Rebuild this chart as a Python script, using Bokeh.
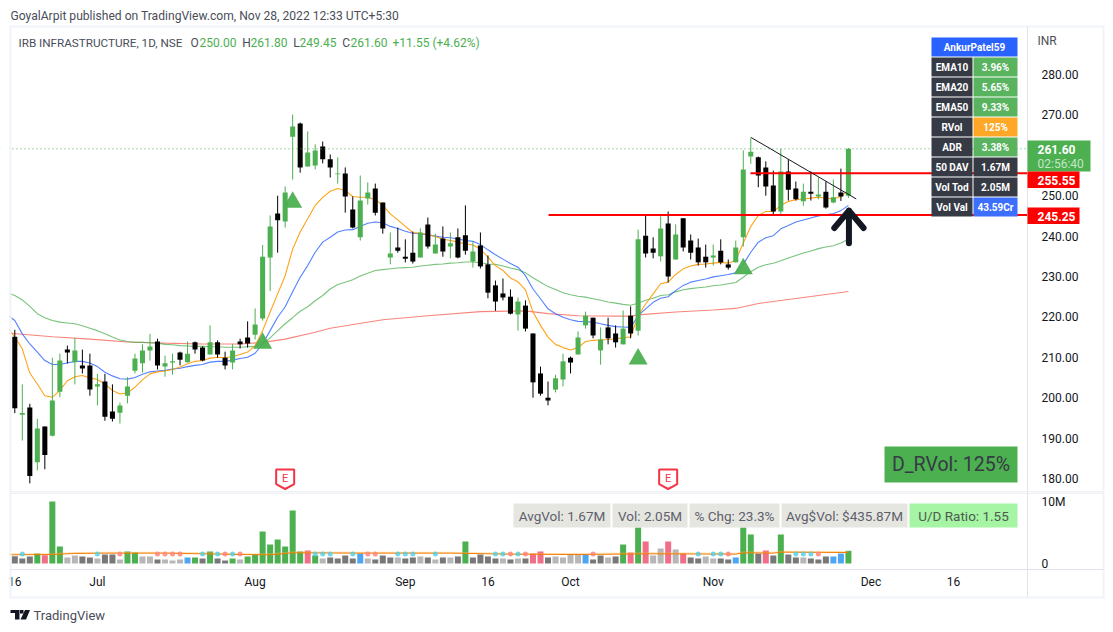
from bokeh.plotting import figure
from bokeh.layouts import column
from bokeh.embed import file_html
from bokeh.resources import INLINE
from bokeh.core.properties import value
from bokeh.models import Range1d, FixedTicker, BoxAnnotation, Label, PolyAnnotation

FONT = "Roboto"

# ---------- price series (one entry per daily bar) ----------
opens = [215.1,195.8,197.6,184.0,192.9,190.6,201.5,211.9,208.8,208.0,208.0,202.8,204.0,196.6,196.3,200.5,206.7,208.5,211.7,213.9,
 207.7,208.7,211.2,208.8,213.7,212.4,210.7,213.7,209.9,208.7,213.9,214.9,215.6,219.6,234.7,245.6,243.6,264.6,267.9,257.2,
 257.5,262.2,259.0,255.3,255.5,246.6,239.7,249.3,251.8,248.3,234.7,237.2,234.9,235.9,234.7,242.9,235.7,239.4,237.4,239.7,
 240.2,233.7,237.7,233.0,227.8,225.8,225.0,220.6,222.8,215.9,206.0,200.0,202.0,204.5,209.9,210.7,217.9,219.8,211.7,217.4,
 215.9,213.2,220.3,216.6,240.1,236.9,235.0,243.1,234.2,244.4,238.9,237.2,234.9,234.7,236.4,233.0,233.5,239.7,259.7,259.5,
 257.0,252.5,246.1,256.0,251.8,248.6,251.0,249.8,251.0,248.3,250.8,250.0]
highs = [216.8,203.3,198.5,194.8,192.9,209.9,210.9,212.9,214.8,211.9,210.9,205.9,205.9,203.3,198.8,205.1,210.9,213.2,215.8,214.6,
 210.4,210.9,211.4,213.9,213.9,212.7,217.9,214.2,211.4,213.3,214.6,218.9,222.1,237.8,245.1,250.0,252.3,270.1,268.1,265.9,
 262.7,263.4,260.2,259.5,257.0,249.8,255.0,253.3,253.0,248.3,240.9,242.1,239.2,241.1,241.9,244.6,240.6,242.4,240.9,241.9,
 247.6,238.7,240.9,235.2,229.0,229.5,226.8,224.8,224.1,215.9,207.7,204.0,205.7,210.9,210.2,216.4,221.3,219.8,217.4,219.8,
 217.9,221.6,222.6,241.6,245.1,239.7,244.9,246.1,242.9,244.4,240.4,239.4,237.9,237.9,239.2,234.2,238.9,261.2,264.4,259.7,
 258.5,256.2,261.6,259.0,253.5,253.0,256.0,254.5,253.5,254.0,256.7,261.8]
lows = [196.2,189.4,178.8,182.0,182.3,190.4,200.1,208.5,203.3,206.0,200.5,198.1,194.3,194.1,193.6,198.6,206.0,206.2,209.2,207.0,
 205.2,205.7,208.0,208.7,210.9,209.0,210.7,209.9,207.0,207.0,212.2,212.4,214.4,219.1,226.4,235.9,242.1,254.0,255.7,257.2,
 256.5,258.0,254.5,253.0,245.8,241.9,238.9,247.8,245.1,240.6,233.0,235.9,233.5,233.2,234.7,236.9,235.7,234.9,234.5,234.5,
 235.4,232.2,232.0,224.6,221.5,224.1,220.6,216.6,216.4,200.0,200.5,198.1,201.3,202.8,206.0,210.7,217.1,214.7,208.2,213.2,
 212.4,213.2,214.7,215.4,234.7,234.5,233.7,228.5,234.2,236.2,234.2,232.7,232.2,232.7,233.0,231.7,233.5,237.4,257.9,252.1,
 250.0,245.1,245.5,248.8,248.8,247.5,248.8,249.1,246.8,248.1,248.7,249.45]
closes = [197.4,196.2,180.6,192.4,185.8,199.3,209.2,211.2,211.7,207.2,202.0,203.3,195.3,194.8,198.1,202.8,209.7,211.7,212.7,208.0,
 208.5,209.0,209.4,210.9,211.9,209.2,213.7,210.7,208.0,211.7,213.2,213.4,218.1,234.9,242.4,243.9,250.8,267.1,257.0,260.7,
 261.2,259.0,257.0,255.5,249.8,242.1,248.8,250.8,245.8,241.9,235.7,236.4,234.4,233.7,240.9,237.4,237.9,236.2,238.2,234.7,
 236.4,236.2,232.5,226.0,223.8,224.8,220.8,223.8,217.1,203.8,201.0,199.3,204.8,209.0,208.7,214.9,220.3,215.4,214.4,214.7,
 213.7,217.1,215.9,239.2,235.7,235.9,241.9,230.0,240.4,237.2,235.9,233.5,233.5,235.2,233.5,232.2,237.2,256.5,260.9,255.0,
 252.3,246.1,256.0,251.5,249.1,251.0,250.5,250.3,247.1,249.6,249.8,261.6]

# ---------- moving averages, from bar -1 (off the left edge) to the last bar ----------
ema10 = [217.5,215.0,212.1,206.1,203.4,200.5,200.1,201.8,204.2,205.2,205.5,204.9,204.5,203.4,201.8,200.9,201.2,202.6,204.4,205.9,206.4,
 206.6,207.0,207.6,208.4,209.0,209.2,209.8,210.0,209.9,210.2,210.7,211.3,212.9,216.6,221.2,225.7,230.2,236.8,241.0,244.3,
 247.6,249.6,251.1,251.8,251.3,249.8,249.6,249.6,249.0,247.6,245.5,244.0,242.4,240.9,240.7,240.4,239.9,239.2,238.9,238.5,
 238.1,237.8,236.8,234.8,232.7,231.5,229.6,228.7,226.7,221.2,217.9,215.0,213.2,212.4,211.8,212.4,213.9,214.2,214.3,214.4,
 214.6,214.8,215.1,220.3,223.2,225.7,228.2,228.6,230.5,231.9,232.6,233.0,233.1,233.3,233.5,233.3,234.0,238.3,242.4,245.1,
 246.1,246.1,247.6,248.6,249.0,249.2,249.4,249.6,249.4,249.2,249.8,251.4]
ema20 = [220.5,219.1,215.8,213.3,211.3,209.2,208.2,208.2,208.6,209.0,209.0,208.6,207.7,206.3,205.4,204.7,204.6,205.0,205.8,206.4,206.6,
 206.8,207.1,207.3,207.7,208.0,208.2,208.8,209.0,209.0,209.3,209.7,210.0,211.0,213.3,216.6,219.9,222.5,226.2,229.8,232.7,
 236.0,238.5,239.7,241.0,241.5,241.6,242.4,243.2,243.5,243.3,242.4,241.9,241.2,240.7,240.6,240.3,240.0,239.7,239.6,239.3,
 238.9,238.7,237.9,236.6,235.4,234.3,233.2,232.3,230.2,226.9,224.5,222.0,220.8,219.9,219.3,218.9,218.8,218.7,218.3,217.9,
 217.6,217.5,217.4,220.3,222.0,223.6,224.6,225.0,226.5,227.8,228.6,229.0,229.4,229.9,230.2,230.5,230.9,233.0,236.0,238.5,
 239.6,240.1,241.8,242.6,243.5,244.0,244.5,245.0,245.3,245.6,246.3,247.6]
ema50 = [226.0,225.3,224.2,222.6,220.8,219.8,219.1,218.7,218.5,218.3,217.8,217.2,216.6,215.8,215.0,214.3,213.9,213.7,213.7,213.6,213.5,
 213.2,213.1,212.9,212.8,212.7,212.7,212.6,212.6,212.5,212.5,212.5,212.6,212.7,213.2,214.8,216.6,218.3,219.8,221.4,222.5,
 224.0,225.3,226.9,228.0,228.6,229.2,230.1,230.8,231.5,231.7,231.9,232.1,232.2,232.3,232.6,232.8,233.0,233.1,233.3,233.4,
 233.6,233.6,233.4,233.1,233.0,232.6,232.1,231.7,230.9,229.7,228.6,227.5,226.8,226.0,225.5,225.1,224.9,224.5,224.1,223.7,
 223.4,223.1,222.9,223.4,224.1,224.6,225.3,225.5,226.2,226.7,227.0,227.2,227.4,227.7,227.9,228.2,228.5,229.8,231.2,232.3,
 232.9,233.3,233.9,234.6,235.2,235.8,236.3,236.9,237.3,237.6,238.3,239.2]
ema200_bar = [-1,5,10,15,20,25,30,33,36,40,42,49,55,62,68,71,75,80,82,83,88,93,96,99,105,111]
ema200 = [216.0,215.1,214.5,213.8,213.5,213.3,213.3,213.7,214.5,216.2,217.2,219.3,220.3,221.3,221.5,220.8,220.3,220.2,220.2,220.5,221.2,221.7,222.1,223.3,224.8,226.3]

# ---------- volume, in millions, one per bar ----------
volume = [1.18,0.81,1.13,1.61,1.34,10.0,2.74,0.97,1.29,1.13,0.97,0.81,1.45,1.45,0.65,1.94,1.77,1.13,1.13,0.65,
 0.65,0.48,0.65,0.97,0.97,0.81,1.94,0.81,0.48,0.81,0.65,1.13,1.45,5.16,3.06,3.87,2.74,8.55,1.94,2.10,
 1.29,0.81,0.97,0.81,1.29,0.81,1.61,0.81,0.65,1.29,0.97,0.97,0.81,0.97,1.13,0.97,0.65,0.97,0.97,1.13,
 3.55,0.97,1.45,1.13,0.81,0.81,0.65,0.81,0.81,1.61,1.94,0.97,1.13,0.97,1.45,1.45,1.45,0.65,1.29,0.97,
 1.13,3.06,1.77,5.81,3.55,1.29,2.42,3.55,2.26,1.61,0.97,0.81,1.13,0.81,0.81,0.65,0.97,5.81,4.68,1.61,
 2.10,1.29,4.68,1.45,0.97,0.97,0.81,0.65,1.13,1.13,1.61,2.05]
volume_kind = list("dddgpggllddlddlgglldlllbgdgddglggggggggpgldddd"[:44]) + list("ddbldddlddldldldgddddldldppdllllbddldgpgpllpl") + list("pddlldd"+"bggdpdgddldddbbg")
vol_ma_bar = [-1,5,8,12,20,25,30,34,37,46,58,66,75,85,96,97,101,102,111]
vol_ma = [1.40,1.45,1.62,1.67,1.67,1.56,1.45,1.40,1.72,1.67,1.67,1.50,1.45,1.56,1.50,1.72,1.67,1.83,1.77]
high_vol_dots = [1,11,25,27,29,40,41,42,45,51,52,53,56,64,65,67,91,93,94,104,105,106]
low_vol_dots = [14,19,20,21,22,28,30,47,48,66,68,77,95,107]

# ---------- annotations ----------
signal_bars = [33,37,83,97]
signal_prices = [213.5,248.4,209.6,231.9]
earnings_bars = [36,87]
levels = [245.25,255.55]
level_start_bars = [71.07,97.96]
trend_bars = [98.05,112.04]
trend_prices = [264.4,249.2]
last_price = 261.6
price_ticks = [180,190,200,210,220,230,240,250,270,280]
month_ticks = [0,11,32,52,63,74,93,114,125]
month_labels = ["16","Jul","Aug","Sep","16","Oct","Nov","Dec","16"]
table_rows = [("EMA10","3.96%"),("EMA20","5.65%"),("EMA50","9.33%"),("RVol","125%"),("ADR","3.38%"),("50 DAV","1.67M"),("Vol Tod","2.05M"),("Vol Val","43.59Cr")]
table_colors = ["#59b35f","#59b35f","#59b35f","#ffa726","#59b35f","#363a45","#363a45","#3d6fff"]

GREEN="#4caf50"; BLACK="#000000"; BORDER="#e0e3eb"; INK="#131722"; FRAME="#f0f3fa"
bars = list(range(len(closes)))
ema_x = [-1]+bars
PANE_RIGHT_BAR = (1027-14.3)/7.51
xr = ((0-14.3)/7.51,(1105-14.3)/7.51)

p1 = figure(frame_width=1105,frame_height=492,x_range=Range1d(*xr),y_range=Range1d(280-(492-74)/4.04,280+74/4.04),
            output_backend="svg",toolbar_location=None,y_axis_location="right",x_axis_location=None,
            min_border_left=0,min_border_right=0,min_border_top=0,min_border_bottom=0,outline_line_color=None)
p2 = figure(frame_width=1105,frame_height=132,x_range=Range1d(*xr),y_range=Range1d((563-624)/6.2,(563-492)/6.2),
            output_backend="svg",toolbar_location=None,y_axis_location="right",
            min_border_left=0,min_border_right=0,min_border_top=0,min_border_bottom=0,outline_line_color=None)
for f in (p1,p2):
    f.grid.visible=False
    for ax in list(f.yaxis)+list(f.xaxis):
        ax.axis_line_color=None; ax.major_tick_line_color=None; ax.minor_tick_line_color=None
        ax.major_label_text_font=FONT; ax.major_label_text_font_size="12px"; ax.major_label_text_color=INK
p1.yaxis.ticker=FixedTicker(ticks=price_ticks)
p1.yaxis.major_label_overrides={t:f"{t:.2f}" for t in price_ticks}
p1.yaxis.major_label_standoff=-70
p2.yaxis.ticker=FixedTicker(ticks=[0,10])
p2.yaxis.major_label_overrides={0:"0",10:"10M"}
p2.yaxis.major_label_standoff=-70
p2.xaxis.ticker=FixedTicker(ticks=month_ticks)
p2.xaxis.major_label_overrides=dict(zip(month_ticks,month_labels))
p2.xaxis.major_label_standoff=-56

def rect(f,base,l,t,r,b,c,line=None):
    f.add_layout(BoxAnnotation(left=l,right=r,top=base-t,bottom=base-b,left_units="screen",right_units="screen",
        top_units="screen",bottom_units="screen",fill_color=c,fill_alpha=1,line_color=line,editable=False))
def label(f,base,x,y,s,size=12,color=INK,align="left",style="normal"):
    f.add_layout(Label(x=x,y=base-y,x_units="screen",y_units="screen",text=s,text_font=FONT,text_font_size=f"{size}px",
        text_color=color,text_align=align,text_baseline="middle",text_font_style=style))
def poly(f,base,pts,fill,line=None,lw=1):
    f.add_layout(PolyAnnotation(xs=[a for a,_ in pts],ys=[base-b for _,b in pts],xs_units="screen",ys_units="screen",
        fill_color=fill,fill_alpha=1,line_color=line,line_width=lw,line_alpha=1 if line else 0))

# moving averages sit under the candles
p1.line(ema200_bar,ema200,line_color="#f44336",line_width=1.1,line_alpha=0.65)
p1.line(ema_x,ema50,line_color=GREEN,line_width=1.1,line_alpha=0.75)
p1.line(ema_x,ema20,line_color="#2962ff",line_width=1.1,line_alpha=0.8)
p1.line(ema_x,ema10,line_color="#ff9800",line_width=1.1,line_alpha=0.9)

candle_color=[GREEN if c>=o else BLACK for o,c in zip(opens,closes)]
p1.segment(bars,lows,bars,highs,line_color=candle_color,line_width=1)
p1.vbar(x=bars,width=0.67,bottom=[min(o,c) for o,c in zip(opens,closes)],top=[max(o,c) for o,c in zip(opens,closes)],
        fill_color=candle_color,line_color=None)

p1.line([xr[0],PANE_RIGHT_BAR],[last_price,last_price],line_color=GREEN,line_width=1,line_dash="1 3")
for lv,st in zip(levels,level_start_bars):
    p1.line([st,PANE_RIGHT_BAR],[lv,lv],line_color="#ff0000",line_width=2)
p1.line(trend_bars,trend_prices,line_color=INK,line_width=1)
p1.scatter(signal_bars,signal_prices,marker="triangle",size=19,fill_color=GREEN,line_color=None,fill_alpha=0.95)

# arrow
ax0=111.07
p1.multi_line([[ax0-1.95,ax0,ax0+1.95],[ax0,ax0]],[[242.0,246.3,242.0],[246.3,238.2]],line_color=INK,line_width=6,line_cap="round",line_join="round")

# earnings flags
for b in earnings_bars:
    xs=[b-1.2,b+1.2,b+1.2,b,b-1.2]
    ys=[182.2,182.2,178.6,177.4,178.6]
    p1.patch(xs,ys,fill_color="#ffffff",line_color="#f23645",line_width=2)
    p1.text([b],[180.0],text=["E"],text_color="#f23645",text_font=value(FONT),text_font_size="11px",text_align="center",text_baseline="middle")

# volume pane
kind={"g":GREEN,"p":"#f06e87","d":"#787878","l":"#b7b7b7","b":"#4da6f5"}
p2.vbar(x=bars,width=0.8,bottom=0,top=volume,fill_color=[kind[k] for k in volume_kind],line_color=None)
p2.line(vol_ma_bar,[v+0.12 for v in vol_ma],line_color="#ffb74d",line_width=1.5,line_alpha=0.4)
p2.line(vol_ma_bar,vol_ma,line_color="#f57c00",line_width=1)
p2.scatter(high_vol_dots,[1.55]*len(high_vol_dots),size=5,fill_color="#4dd0e1",fill_alpha=0.8,line_color=None)
p2.scatter(low_vol_dots,[1.55]*len(low_vol_dots),size=5,fill_color="#ff8a80",fill_alpha=0.9,line_color=None)

# frame lines and white-outs beyond the pane's edge
B1=492; B2=624
rect(p1,B1,0,26,9,492,"#ffffff")
rect(p2,B2,0,492,9,598,"#ffffff")
rect(p1,B1,9,25,1104,27,FRAME)
rect(p1,B1,9,26,11,492,FRAME)
rect(p1,B1,1102,26,1104,492,FRAME)
rect(p1,B1,1026.5,26,1027.5,492,BORDER)
rect(p1,B1,10,491,1103,492,BORDER)
rect(p2,B2,9,492,11,598,FRAME)
rect(p2,B2,1102,492,1104,598,FRAME)
rect(p2,B2,1026.5,492,1027.5,597,BORDER)
rect(p2,B2,10,492,1103,493,BORDER)
rect(p2,B2,10,568.5,1103,569.5,BORDER)
rect(p2,B2,9,596,1104,598,FRAME)

# header texts
label(p1,B1,10,15,"GoyalArpit published on TradingView.com, Nov 28, 2022 12:33 UTC+5:30",12.1,"#4a4e59")
label(p1,B1,18,42,"IRB INFRASTRUCTURE, 1D, NSE",11.7,"#4a4e59")
for x,s in [(190,"O"),(241.7,"H"),(292.7,"L"),(341.7,"C")]:
    label(p1,B1,x,42,s,12,"#4a4e59")
for x,s in [(199,"250.00"),(250,"261.80"),(299,"249.45"),(350,"261.60"),(392,"+11.55 (+4.62%)")]:
    label(p1,B1,x,42,s,12,GREEN)
label(p1,B1,1037,40,"INR",12,"#4a4e59")

# status table
rect(p1,B1,931,37,1017,56,"#2962ff")
label(p1,B1,974,47,"AnkurPatel59",10,"#ffffff","center","bold")
for n,((a,b),c) in enumerate(zip(table_rows,table_colors)):
    top=57+20*n
    rect(p1,B1,931,top,972,top+19,"#363a45")
    rect(p1,B1,973,top,1017,top+19,c)
    label(p1,B1,951.5,top+9.5,a,10,"#ffffff","center","bold")
    label(p1,B1,995,top+9.5,b,10,"#ffffff","center","bold")

# price tags
rect(p1,B1,1027,140,1090,171,"#4caf50")
label(p1,B1,1037,149,"261.60",12,"#ffffff","left","bold")
label(p1,B1,1037,163,"02:56:40",12,"#c5e6c7")
rect(p1,B1,1027,171,1079,187.5,"#ff0000")
label(p1,B1,1037,179.5,"255.55",12,"#ffffff","left","bold")
rect(p1,B1,1027,207,1079,223.5,"#ff0000")
label(p1,B1,1037,215.5,"245.25",12,"#ffffff","left","bold")

# RVol box
rect(p1,B1,884,446,1017,482,GREEN)
label(p1,B1,950.5,464,"D_RVol: 125%",19.5,"#363a45","center")

# stats strip
for l,r,s,bg,fg in [(513,610,"AvgVol: 1.67M","#e6e6e1","#5d606b"),(612,687,"Vol: 2.05M","#e6e6e1","#5d606b"),
                    (689,779,"% Chg: 23.3%","#e6e6e1","#5d606b"),(781,907,"Avg$Vol: $435.87M","#e6e6e1","#5d606b"),
                    (909,1017,"U/D Ratio: 1.55","#a5f5a5","#4f5b4f")]:
    rect(p2,B2,l,503,r,527,bg)
    label(p2,B2,(l+r)/2,515,s,13.5,fg,"center")

# logo
poly(p2,B2,[(10,609.5),(19,609.5),(19,619),(14.5,619),(14.5,612.5),(10,612.5)],"#131722")
poly(p2,B2,[(19.5,609.5),(23,609.5),(23,613),(19.5,613)],"#131722")
poly(p2,B2,[(24.5,609.5),(29.5,609.5),(25.5,619),(20,619)],"#131722")
label(p2,B2,33,614.5,"TradingView",13,"#4a4e59")

open("out.html","w").write(file_html(column(p1,p2,spacing=0),INLINE))
